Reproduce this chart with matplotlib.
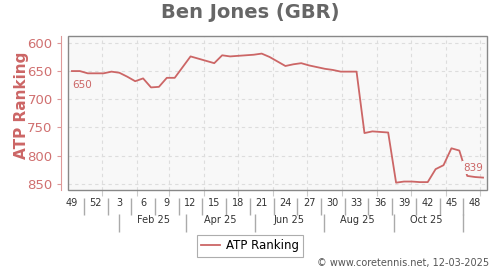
import datetime as dt
import matplotlib
matplotlib.use("Agg")
import matplotlib.pyplot as plt
from matplotlib.lines import Line2D

# weekly ATP ranking, week 49/2024 .. week 49/2025
weeks = list(range(49, 53)) + list(range(1, 50))
ranking = [650, 650, 654, 654, 654, 651, 653, 660, 668, 663,
           679, 678, 662, 662, 643, 624, 628, 632, 636, 622,
           624, 623, 622, 621, 619, 625, 633, 641, 638, 636,
           640, 643, 646, 648, 651, 651, 651, 760, 757, 758,
           759, 848, 846, 846, 847, 847, 824, 817, 787, 791,
           836, 838, 839]
week_labels = [str(w) for w in weeks[::3]]
month_labels = ["Feb 25", "Apr 25", "Jun 25", "Aug 25", "Oct 25"]
yticks = [600, 650, 700, 750, 800, 850]

red = "#cc6666"
pink = "#dd9999"

origin = dt.date(2024, 12, 5)


def week_pos(d):
    return (d - origin).days / 7


idx = list(range(len(ranking)))
month_starts = [week_pos(dt.date(2025, m, 1)) for m in range(1, 13)]
month_mid = [week_pos(dt.date(2025, m, 15)) for m in (2, 4, 6, 8, 10)]
month_sep = [week_pos(dt.date(2025, m, 16)) for m in (1, 3, 5, 7, 9, 11)]
week_ticks = idx[::3]
week_sep = [i + 1.5 for i in week_ticks[:-1]]

fig = plt.figure(figsize=(5, 2.7), dpi=100)
ax = fig.add_axes([0.136, 0.2963, 0.838, 0.572])
ax.set_facecolor("#f8f8f8")

ax.plot(idx, ranking, color=red, linewidth=1.3)
ax.set_xlim(-0.5, 52.5)
ax.set_ylim(861, 587)

# frame around the plot area
for s in ["top", "right", "bottom"]:
    ax.spines[s].set_visible(False)
ax.add_patch(plt.Rectangle((0, 0), 1, 1, transform=ax.transAxes, fill=False,
                           edgecolor="#888888", linewidth=1.0, clip_on=False, zorder=5))

# y axis, offset from frame
ax.spines["left"].set_position(("outward", 5))
ax.spines["left"].set_color(pink)
ax.set_yticks(yticks)
ax.tick_params(axis="y", colors=pink, labelcolor="#d07070", labelsize=9.5, length=3, pad=3)
ax.set_ylabel("ATP Ranking", color=red, fontsize=11, fontweight="bold")
ax.yaxis.set_label_coords(-0.093, 0.55)

# x axis: month grid lines
ax.set_xticks(month_starts)
ax.set_xticklabels([])
ax.tick_params(axis="x", colors="#cccccc", length=4)
ax.grid(True, color="#dddddd", linestyle=(0, (3, 3)), linewidth=0.8)
ax.set_axisbelow(True)

# week numbers
sec = ax.secondary_xaxis(-0.05)
sec.spines["bottom"].set_visible(False)
sec.set_xticks(week_sep)
sec.set_xticklabels([])
sec.set_xticks(week_ticks, minor=True)
sec.set_xticklabels(week_labels, minor=True)
sec.tick_params(axis="x", which="major", length=12, color="#aaaaaa", width=1)
sec.tick_params(axis="x", which="minor", length=0, labelsize=7, labelcolor="#333333", pad=0.5)

# months
sec2 = ax.secondary_xaxis(-0.155)
sec2.spines["bottom"].set_visible(False)
sec2.set_xticks(month_sep)
sec2.set_xticklabels([])
sec2.set_xticks(month_mid, minor=True)
sec2.set_xticklabels(month_labels, minor=True)
sec2.tick_params(axis="x", which="major", length=13, color="#aaaaaa", width=1)
sec2.tick_params(axis="x", which="minor", length=0, labelsize=7, labelcolor="#333333", pad=1)

# first/last labels
ax.annotate(str(ranking[0]), (idx[0], ranking[0]), xytext=(0, -10),
            textcoords="offset points", ha="left", va="center", fontsize=7.5, color=red)
ax.annotate(str(ranking[-1]), (idx[-1], ranking[-1]), xytext=(0, 7),
            textcoords="offset points", ha="right", va="center", fontsize=7.5, color=red,
            bbox=dict(boxstyle="square,pad=0.15", facecolor="#f8f8f8", edgecolor="none"))

fig.text(0.5, 0.955, "Ben Jones (GBR)", ha="center", va="center",
         fontsize=14, fontweight="bold", color="#666666")

handle = Line2D([], [], color=red, linewidth=1.3)
leg = fig.legend([handle], ["ATP Ranking"], loc="center", bbox_to_anchor=(0.5, 0.089),
                 fontsize=8.5, frameon=True, fancybox=False, handlelength=1.6,
                 borderpad=0.35, handletextpad=0.5)
leg.get_frame().set_edgecolor("#999999")
leg.get_frame().set_linewidth(0.8)

fig.text(0.978, 0.026, "\u00a9 www.coretennis.net, 12-03-2025", ha="right", va="center",
         fontsize=7, color="#555555")

fig.savefig("out.png", dpi=100)
